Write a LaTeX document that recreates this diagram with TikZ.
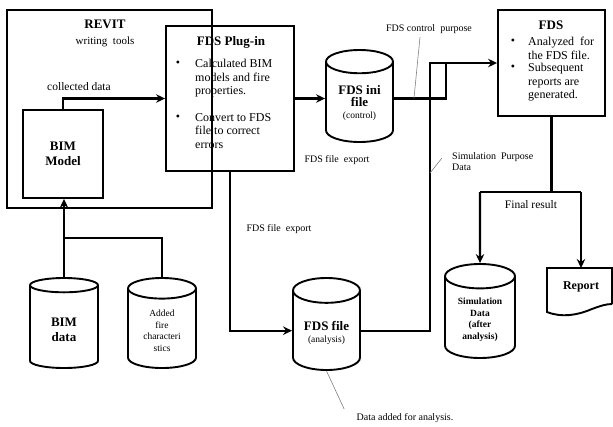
\documentclass[tikz,border=0pt]{standalone}
\usepackage{fontspec}
\setmainfont{Liberation Serif}
\usetikzlibrary{shapes.geometric,arrows.meta}

% pushes the lines of a store label a little below the centre
\newcommand{\droplabel}[1]{\rule{0pt}{#1}}

\tikzset{
  block/.style={draw, line width=1.9pt, inner sep=0pt, align=center},
  store/.style={draw, line width=1.9pt, cylinder, shape border rotate=90,
    aspect=0.55, inner sep=0pt, align=center, anchor=shape center},
  flow/.style={line width=2.1pt, -{Stealth[length=9pt,width=8.5pt,inset=3pt]}},
  link/.style={line width=2.1pt},
  callout/.style={draw=gray, line width=0.6pt},
  note/.style={font=\fontsize{10}{11.5}\selectfont},
  body/.style={font=\fontsize{12}{13.5}\selectfont, align=left, inner sep=0pt},
  title/.style={font=\bfseries\fontsize{13}{15}\selectfont}
}

\begin{document}
\begin{tikzpicture}[x=1pt, y=-1pt]
  \useasboundingbox (0,0) rectangle (613,426);

  % REVIT frame with the BIM model inside
  \node[block, minimum width=205pt, minimum height=198pt] (revit) at (109.5,109) {};
  \node[title] (revittitle) at (105,24) {REVIT};
  \node[font=\fontsize{11}{13}\selectfont] (revittools) at (105,42) {writing\ \ tools};
  \node[block, title, minimum width=80pt, minimum height=88pt] (bimmodel) at (63,154) {BIM\\Model};
  \node[font=\fontsize{11.5}{13}\selectfont] (collected) at (79,87) {collected data};

  % FDS plug-in
  \node[block, minimum width=128pt, minimum height=145pt] (plugin) at (230,98.5) {};
  \node[title] (plugintitle) at (231,42) {FDS Plug-in};
  \node[body] (bulletone) at (178,64) {\textbullet};
  \node[body, anchor=north west] (pluginone) at (195,59) {Calculated BIM\\models and fire\\properties.};
  \node[body] (bullettwo) at (178,118) {\textbullet};
  \node[body, anchor=north west] (plugintwo) at (195,113) {Convert to FDS\\file to correct\\errors};

  % FDS box
  \node[block, minimum width=107pt, minimum height=106pt] (fds) at (551.5,63) {};
  \node[title] (fdstitle) at (551,25) {FDS};
  \node[body] (bulletthree) at (513,42) {\textbullet};
  \node[body, anchor=north west] (fdsone) at (528,37) {Analyzed\ \ for\\the FDS file.};
  \node[body] (bulletfour) at (513,68) {\textbullet};
  \node[body, anchor=north west] (fdstwo) at (528,63) {Subsequent\\reports are\\generated.};

  % data stores
  \node[store, minimum width=67pt, minimum height=92pt] (ini) at (359.5,96)
    {\droplabel{10pt}\bfseries\fontsize{13}{15}\selectfont FDS ini\\\bfseries\fontsize{13}{15}\selectfont file\\\fontsize{9.5}{12}\selectfont (control)};
  \node[store, minimum width=67pt, minimum height=92pt] (fdsfile) at (326.5,324)
    {\droplabel{13pt}\bfseries\fontsize{13}{15}\selectfont FDS file\\\fontsize{9.5}{12}\selectfont (analysis)};
  \node[store, title, minimum width=68pt, minimum height=90pt] (bimdata) at (64,323) {\droplabel{15pt}BIM\\data};
  \node[store, font=\fontsize{9.5}{11.7}\selectfont, minimum width=68pt, minimum height=90pt] (addfire) at (162,323)
    {\droplabel{11pt}Added\\fire\\characteri\\stics};
  \node[store, font=\bfseries\fontsize{9.5}{11.8}\selectfont, minimum width=70pt, minimum height=94pt] (simdata) at (480,311)
    {\droplabel{11pt}Simulation\\Data\\(after\\analysis)};

  % report sheet
  \draw[line width=1.9pt] (612,304) -- (612,268) -- (547,268) -- (547,312)
    .. controls (562,318) and (578,315) .. (592,309) .. controls (600,306) and (606,304) .. (612,304);
  \coordinate (reporttop) at (581,268);
  \node[font=\bfseries\fontsize{12}{14}\selectfont] (report) at (581,287) {Report};

  % labels
  \node[note] (exportone) at (337,160) {FDS file\ \ export};
  \node[note] (exporttwo) at (279,229) {FDS file\ \ export};
  \node[note] (ctrllabel) at (429,29) {FDS control\ \ purpose};
  \node[note, align=left, inner sep=0pt, anchor=north west] (simlabel) at (452,152) {Simulation\ \ Purpose\\Data};
  \node[note] (datalabel) at (405,418) {Data added for analysis.};
  \node[font=\fontsize{11.5}{13}\selectfont] (finalres) at (531,205) {Final result};

  % joints
  \coordinate (merge) at (446,63);
  \coordinate (simbend) at (430,63);
  \coordinate (bimjoin) at (64,238);
  \coordinate (splitleft) at (480,192);
  \coordinate (splitright) at (581,192);
  \coordinate (ctrlpoint) at (414,98);
  \coordinate (simpoint) at (430,173);

  % connectors
  \draw[flow] (bimmodel.north) |- (plugin.west);
  \draw[flow] (plugin.east) -- (plugin.east -| ini.west);
  \draw[link] (ini.east |- plugin.east) -| (merge);
  \draw[flow] (fdsfile.east) -| (simbend) -- (fds.west);
  \draw[flow] (plugin.south) |- (fdsfile.west);
  \draw[flow] (bimdata.north) -- (bimdata.north |- bimmodel.south);
  \draw[link] (addfire.north) |- (bimjoin);
  \draw[link] (fds.south) -- (fds.south |- splitleft);
  \draw[link] (splitleft) -- (splitright);
  \draw[flow] (splitleft) -- (simdata.north);
  \draw[flow] (splitright) -- (reporttop);

  % callouts
  \draw[callout] ([xshift=-9pt]ctrllabel.south) -- (ctrlpoint);
  \draw[callout] ([xshift=-10pt,yshift=-6pt]simlabel.north west) -- (simpoint);
  \draw[callout] ([xshift=-9pt,yshift=9pt]datalabel.west) -- (fdsfile.south);
\end{tikzpicture}
\end{document}
